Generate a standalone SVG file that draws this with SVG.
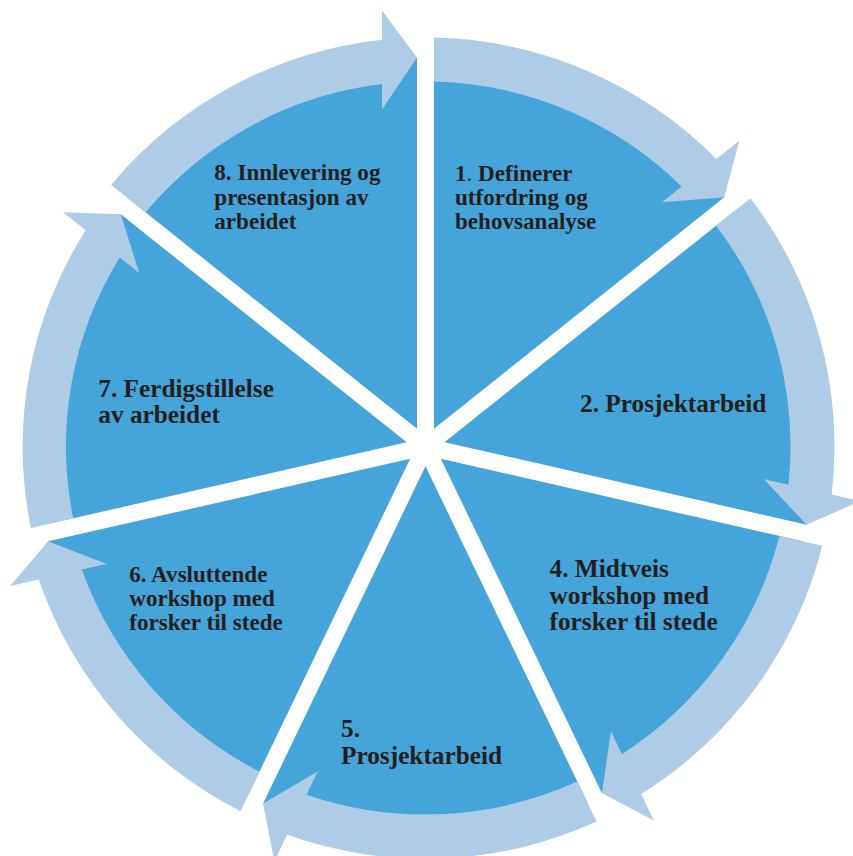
<svg xmlns="http://www.w3.org/2000/svg" width="853" height="856" viewBox="0 0 853 856">
<style>
.wedge{fill:#45A5DA}
.arrow{fill:#AFCCE6}
.lbl{font-family:"Liberation Serif","Times New Roman",serif;font-weight:bold;fill:#231F20}
.s23{font-size:23.1px}
.s25{font-size:25.3px}
.thin{font-weight:normal}
</style>
<defs>
<path id="wedge" d="M8.5,-17.65 L8.5,-388.91 A389,389 0 0 1 298.76,-249.13 Z"/>
<path id="arrow" d="M8.5,-408.91 A409,409 0 0 1 290.83,-287.57 L313.76,-305.85 L298.83,-249.18 L236.36,-244.13 L256.21,-259.96 A365,365 0 0 0 8.5,-364.9 Z"/>
</defs>
<rect width="853" height="856" fill="#ffffff"/>
<g id="nodes">
<g id="node1">
<use href="#wedge" class="wedge" transform="translate(425.5,446.5) rotate(0)"/>
<text class="lbl s23" x="455" y="180.7"><tspan>1</tspan><tspan class="thin">.</tspan><tspan> Definerer</tspan></text>
<text class="lbl s23" x="455" y="205">utfordring og</text>
<text class="lbl s23" x="455" y="229.3">behovsanalyse</text>
</g>
<g id="node2">
<use href="#wedge" class="wedge" transform="translate(425.5,446.5) rotate(51.428571)"/>
<text class="lbl s25" x="580" y="412">2. Prosjektarbeid</text>
</g>
<g id="node4">
<use href="#wedge" class="wedge" transform="translate(425.5,446.5) rotate(102.857143)"/>
<text class="lbl s25" x="549.5" y="577.3">4. Midtveis</text>
<text class="lbl s25" x="549.5" y="603.8">workshop med</text>
<text class="lbl s25" x="549.5" y="630.3">forsker til stede</text>
</g>
<g id="node5">
<use href="#wedge" class="wedge" transform="translate(425.5,446.5) rotate(154.285714) scale(1.008)"/>
<text class="lbl s25" x="341" y="737.3">5.</text>
<text class="lbl s25" x="341" y="764">Prosjektarbeid</text>
</g>
<g id="node6">
<use href="#wedge" class="wedge" transform="translate(425.5,446.5) rotate(205.714286)"/>
<text class="lbl s23" x="129.3" y="581.7">6. Avsluttende</text>
<text class="lbl s23" x="129.3" y="605.8">workshop med</text>
<text class="lbl s23" x="129.3" y="630">forsker til stede</text>
</g>
<g id="node7">
<use href="#wedge" class="wedge" transform="translate(425.5,446.5) rotate(257.142857) scale(0.985)"/>
<text class="lbl s25" x="98.3" y="396.7">7. Ferdigstillelse</text>
<text class="lbl s25" x="98.3" y="423.3">av arbeidet</text>
</g>
<g id="node8">
<use href="#wedge" class="wedge" transform="translate(425.5,446.5) rotate(308.571429)"/>
<text class="lbl s23" x="214.3" y="180">8. Innlevering og</text>
<text class="lbl s23" x="214.3" y="204.5">presentasjon av</text>
<text class="lbl s23" x="214.3" y="229">arbeidet</text>
</g>
</g>
<g id="connectors">
<use href="#arrow" class="arrow" transform="translate(425.5,446.5) rotate(0)"/>
<use href="#arrow" class="arrow" transform="translate(425.5,446.5) rotate(51.428571)"/>
<use href="#arrow" class="arrow" transform="translate(425.5,446.5) rotate(102.857143)"/>
<use href="#arrow" class="arrow" transform="translate(425.5,446.5) rotate(154.285714) scale(1.008)"/>
<use href="#arrow" class="arrow" transform="translate(425.5,446.5) rotate(205.714286)"/>
<use href="#arrow" class="arrow" transform="translate(425.5,446.5) rotate(257.142857) scale(0.985)"/>
<use href="#arrow" class="arrow" transform="translate(425.5,446.5) rotate(308.571429)"/>
</g>
</svg>
